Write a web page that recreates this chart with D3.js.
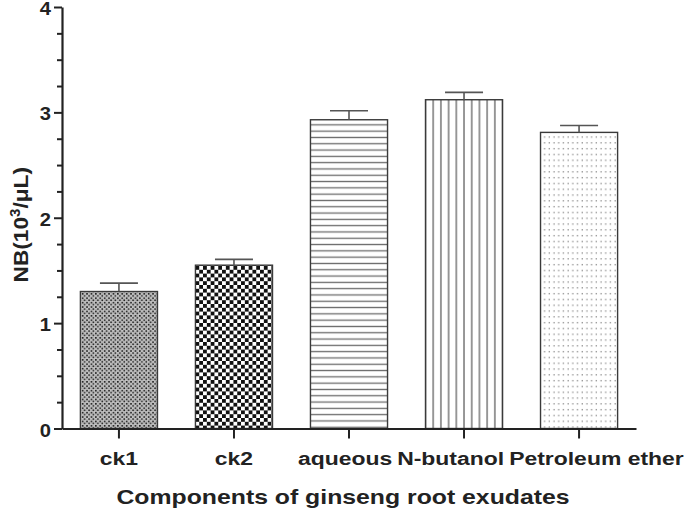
<!DOCTYPE html>
<html>
<head>
<meta charset="utf-8">
<script src="https://cdn.jsdelivr.net/npm/d3@7"></script>
<style>
  html, body { margin: 0; padding: 0; background: #fff; }
  svg { display: block; font-family: "Liberation Sans", Arial, sans-serif; }
</style>
</head>
<body>
<svg id="chart" width="689" height="517"></svg>
<script>
const categories = ["ck1", "ck2", "aqueous", "N-butanol", "Petroleum ether"];
const values = [1.30, 1.55, 2.93, 3.12, 2.81];
const errors = [0.08, 0.055, 0.085, 0.07, 0.065];
const majorTicks = [0, 1, 2, 3, 4];
const minorTicks = [0.25, 0.5, 0.75, 1.25, 1.5, 1.75, 2.25, 2.5, 2.75, 3.25, 3.5, 3.75];
const patternIds = ["pck1", "pck2", "paq", "pnb", "ppe"];
const yTitle = "NB(10";
const xTitle = "Components of ginseng root exudates";

const svg = d3.select("#chart");
const plotLeft = 62, plotRight = 636, plotTop = 7, plotBottom = 428.5;

const x = d3.scaleBand().domain(categories).range([plotLeft, plotRight])
  .paddingInner(0.33).paddingOuter(0.16);
const y = d3.scaleLinear().domain([0, 4]).range([plotBottom, plotTop]);

const bw = x.bandwidth();
const defs = svg.append("defs");

// ck1: fine checker
{
  const p = defs.append("pattern").attr("id", "pck1").attr("patternUnits", "userSpaceOnUse")
    .attr("width", 4.4).attr("height", 4.4);
  p.append("rect").attr("width", 4.4).attr("height", 4.4).attr("fill", "#fff");
  p.append("rect").attr("x", 0.2).attr("y", 0.2).attr("width", 1.9).attr("height", 1.9).attr("fill", "#222");
  p.append("rect").attr("x", 2.4).attr("y", 2.4).attr("width", 1.9).attr("height", 1.9).attr("fill", "#222");
  p.append("rect").attr("x", 2.4).attr("y", 0.2).attr("width", 1.9).attr("height", 1.9).attr("fill", "#b0b0b0");
  p.append("rect").attr("x", 0.2).attr("y", 2.4).attr("width", 1.9).attr("height", 1.9).attr("fill", "#b0b0b0");
}
// ck2: coarse checker
{
  const s = 3.8;
  const p = defs.append("pattern").attr("id", "pck2").attr("patternUnits", "userSpaceOnUse")
    .attr("x", x("ck2")).attr("y", 0).attr("width", 2 * s).attr("height", 2 * s);
  p.append("rect").attr("width", 2 * s).attr("height", 2 * s).attr("fill", "#fff");
  p.append("rect").attr("x", 0).attr("y", 0).attr("width", s).attr("height", s).attr("fill", "#111");
  p.append("rect").attr("x", s).attr("y", s).attr("width", s).attr("height", s).attr("fill", "#111");
}
// aqueous: horizontal lines
{
  const h = 6.3;
  const p = defs.append("pattern").attr("id", "paq").attr("patternUnits", "userSpaceOnUse")
    .attr("width", 10).attr("height", h).attr("y", 2);
  p.append("rect").attr("width", 10).attr("height", h).attr("fill", "#fff");
  p.append("line").attr("x1", 0).attr("x2", 10).attr("y1", h / 2).attr("y2", h / 2)
    .attr("stroke", "#6a6a6a").attr("stroke-width", 1.3);
}
// N-butanol: vertical lines, 10 intervals across bar
{
  const w = bw / 10;
  const p = defs.append("pattern").attr("id", "pnb").attr("patternUnits", "userSpaceOnUse")
    .attr("x", x("N-butanol") - w / 2).attr("width", w).attr("height", 10);
  p.append("rect").attr("width", w).attr("height", 10).attr("fill", "#fff");
  p.append("line").attr("x1", w / 2).attr("x2", w / 2).attr("y1", 0).attr("y2", 10)
    .attr("stroke", "#555").attr("stroke-width", 1.2);
}
// Petroleum ether: sparse dots
{
  const w = 4.7, h = 5.8;
  const p = defs.append("pattern").attr("id", "ppe").attr("patternUnits", "userSpaceOnUse")
    .attr("x", x("Petroleum ether") + 2).attr("y", 1).attr("width", w).attr("height", h);
  p.append("rect").attr("width", w).attr("height", h).attr("fill", "#fff");
  p.append("rect").attr("x", 1.5).attr("y", 2).attr("width", 1.3).attr("height", 1.3).attr("fill", "#8a8a8a");
}

const data = categories.map((c, i) => ({ c, v: values[i], e: errors[i], pid: patternIds[i] }));

// bars
svg.append("g").selectAll("rect").data(data).join("rect")
  .attr("x", d => x(d.c))
  .attr("y", d => y(d.v))
  .attr("width", bw)
  .attr("height", d => y(0) - y(d.v))
  .attr("fill", d => `url(#${d.pid})`)
  .attr("stroke", "#3a3a3a")
  .attr("stroke-width", 1.4);

// error bars
const eg = svg.append("g").attr("stroke", "#555").attr("stroke-width", 1.6);
eg.selectAll("line.v").data(data).join("line").attr("class", "v")
  .attr("x1", d => x(d.c) + bw / 2).attr("x2", d => x(d.c) + bw / 2)
  .attr("y1", d => y(d.v)).attr("y2", d => y(d.v + d.e));
eg.selectAll("line.c").data(data).join("line").attr("class", "c")
  .attr("x1", d => x(d.c) + bw / 2 - 19).attr("x2", d => x(d.c) + bw / 2 + 19)
  .attr("y1", d => y(d.v + d.e)).attr("y2", d => y(d.v + d.e));

// y axis minor ticks
const yMinor = svg.append("g").attr("transform", `translate(${plotLeft},0)`)
  .call(d3.axisLeft(y).tickValues(minorTicks).tickSize(5).tickFormat(""));
yMinor.select(".domain").remove();
yMinor.selectAll(".tick line").attr("stroke", "#222").attr("stroke-width", 2);

// y axis major
const yAxis = svg.append("g").attr("transform", `translate(${plotLeft},0)`)
  .call(d3.axisLeft(y).tickValues(majorTicks).tickSize(8).tickSizeOuter(0).tickFormat(d3.format("d")));
yAxis.select(".domain").attr("stroke", "#222").attr("stroke-width", 2.2);
yAxis.selectAll(".tick line").attr("stroke", "#222").attr("stroke-width", 2);
yAxis.selectAll(".tick text")
  .attr("font-size", 18).attr("font-weight", "bold").attr("fill", "#222")
  .attr("font-family", "Liberation Sans, Arial, sans-serif")
  .attr("x", 0).attr("dy", 0)
  .attr("transform", "translate(-11,7.5) scale(1.12,1)");

// x axis
const xAxis = svg.append("g").attr("transform", `translate(0,${plotBottom})`)
  .call(d3.axisBottom(x).tickSize(10).tickSizeOuter(0));
xAxis.select(".domain").attr("stroke", "#222").attr("stroke-width", 2.2);
xAxis.selectAll(".tick line").attr("stroke", "#222").attr("stroke-width", 2);
const xLabelScale = 1.24;
const xLabels = xAxis.selectAll(".tick text")
  .attr("font-size", 18.5).attr("font-weight", "bold").attr("fill", "#222")
  .attr("font-family", "Liberation Sans, Arial, sans-serif")
  .attr("y", 0).attr("dy", 0)
  .each(function () { this.__dx = 0; })
  .attr("transform", `translate(0,36) scale(${xLabelScale},1)`);

// push overlapping neighbouring labels apart
{
  const nodes = xLabels.nodes();
  const gap = 5;
  for (let iter = 0; iter < 5; iter++) {
    for (let i = 0; i < nodes.length - 1; i++) {
      const a = nodes[i].getBoundingClientRect();
      const b = nodes[i + 1].getBoundingClientRect();
      const ov = a.right + gap - b.left;
      if (ov > 0) {
        nodes[i].__dx -= ov / 2;
        nodes[i + 1].__dx += ov / 2;
        d3.select(nodes[i]).attr("transform", `translate(${nodes[i].__dx},36) scale(${xLabelScale},1)`);
        d3.select(nodes[i + 1]).attr("transform", `translate(${nodes[i + 1].__dx},36) scale(${xLabelScale},1)`);
      }
    }
  }
}

// y title
const yt = svg.append("text")
  .attr("transform", `translate(28,${(plotTop + plotBottom) / 2 + 7}) rotate(-90) scale(1.08,1)`)
  .attr("text-anchor", "middle")
  .attr("font-size", 21).attr("font-weight", "bold").attr("fill", "#222");
yt.append("tspan").text(yTitle);
yt.append("tspan").attr("dy", -8).attr("font-size", 14).text("3");
yt.append("tspan").attr("dy", 8).text("/\u03bcL)");

// x title
svg.append("text")
  .attr("transform", `translate(343,504) scale(1.24,1)`)
  .attr("text-anchor", "middle")
  .attr("font-size", 20).attr("font-weight", "bold").attr("fill", "#222")
  .text(xTitle);
</script>
</body>
</html>
